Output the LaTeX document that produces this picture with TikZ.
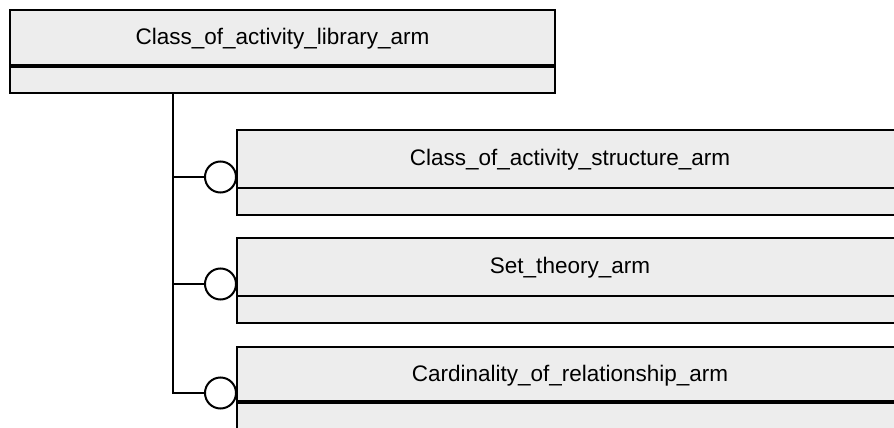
\documentclass[tikz,border=0pt]{standalone}
\usepackage{fontspec}
\setmainfont{Liberation Sans}
\begin{document}
\begin{tikzpicture}[x=1pt,y=-1pt,
  boxfill/.style={fill=black!7},
  frame/.style={draw=black,line width=2pt},
  thickdiv/.style={draw=black,line width=3.5pt},
  thindiv/.style={draw=black,line width=2pt},
  lbl/.style={font=\fontsize{22.5}{26}\selectfont,anchor=base,inner sep=0pt},
  conn/.style={draw=black,line width=2pt},
  ring/.style={circle,draw=black,line width=2pt,fill=white,minimum size=31pt,inner sep=0pt}]
\useasboundingbox (0,0) rectangle (894,428);
\clip (0,0) rectangle (894,428);
\fill[white] (0,0) rectangle (894,428);
% top entity
\path[boxfill,frame] (10,10) rectangle (555,93);
\path[thickdiv] (10,66) -- (555,66);
\node[lbl] (top) at (282.5,44.5) {Class\_of\_activity\_library\_arm};
% child entities
\path[boxfill,frame] (237,130) rectangle (910,215);
\path[thindiv] (237,188) -- (910,188);
\node[lbl] (c1) at (570,165) {Class\_of\_activity\_structure\_arm};
\path[boxfill,frame] (237,238) rectangle (910,323);
\path[thindiv] (237,296) -- (910,296);
\node[lbl] (c2) at (570,273) {Set\_theory\_arm};
\path[boxfill,frame] (237,347) rectangle (910,440);
\path[thickdiv] (237,402) -- (910,402);
\node[lbl] (c3) at (570,381) {Cardinality\_of\_relationship\_arm};
% connectors
\coordinate (trunk) at (173,93);
\coordinate (j1) at (173,177);
\coordinate (j2) at (173,284);
\coordinate (j3) at (173,393);
\node[ring] (r1) at (220.5,177) {};
\node[ring] (r2) at (220.5,284) {};
\node[ring] (r3) at (220.5,393) {};
\draw[conn] (trunk) -- (j3) -- (r3.west);
\draw[conn] (j1) -- (r1.west);
\draw[conn] (j2) -- (r2.west);
\end{tikzpicture}
\end{document}
